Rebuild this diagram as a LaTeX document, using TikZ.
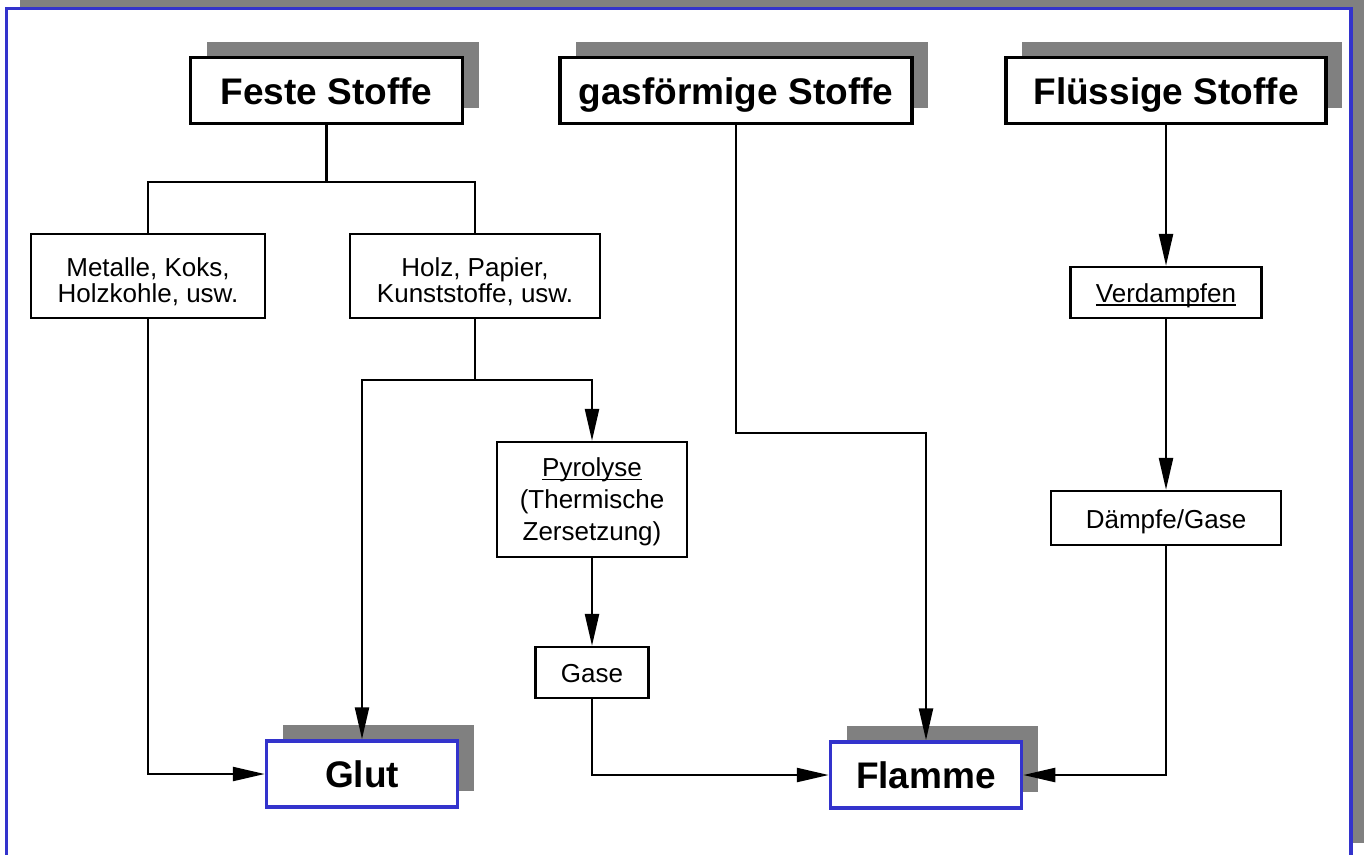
\documentclass[tikz,border=0pt]{standalone}
\usepackage{fontspec}
\setmainfont{Liberation Sans}
\usetikzlibrary{arrows.meta,shadows}
\definecolor{frameblue}{HTML}{3333CC}
\definecolor{shadowgray}{HTML}{808080}
\newcommand\myul[1]{\setbox0\hbox{#1}\rlap{\rule[-3.5pt]{\wd0}{1.6pt}}\box0}
\newcommand\topstrut{\rule{0pt}{31pt}}
\tikzset{
  headbox/.style={draw=black, line width=3.5pt, fill=white, inner sep=0pt,
    text height=27pt, text depth=0pt,
    font=\fontsize{37}{40}\selectfont\bfseries,
    general shadow={fill=shadowgray, shadow xshift=16pt, shadow yshift=16pt}},
  resbox/.style={headbox, draw=frameblue},
  smallbox/.style={draw=black, line width=2.3pt, fill=white, inner sep=0pt, align=center,
    font=\fontsize{26}{26}\selectfont},
  oneline/.style={smallbox, text height=20pt, text depth=0pt},
  conn/.style={line width=2.4pt, draw=black},
  arr/.style={conn, -{Triangle[length=32pt,width=14pt]}}
}
\begin{document}
\begin{tikzpicture}[x=1pt,y=-1pt]
\useasboundingbox (0,0) rectangle (1364,854);
\clip (0,0) rectangle (1364,854);
% outer frame with shadow
\fill[shadowgray] (20,-10) rectangle (1380,843);
\draw[frameblue, line width=3.5pt, fill=white] (6.5,8.5) rectangle (1351,890);

% head boxes
\node[headbox, minimum width=272pt, minimum height=66pt] (feste) at (326.5,90.5) {Feste Stoffe};
\node[headbox, minimum width=352pt, minimum height=66pt] (gas) at (736,90.5) {gasförmige Stoffe};
\node[headbox, minimum width=320pt, minimum height=66pt] (flu) at (1166,90.5) {Flüssige Stoffe};

% small boxes
\node[smallbox, minimum width=234pt, minimum height=84pt] (metalle) at (148,276) {\topstrut Metalle, Koks,\\Holzkohle, usw.};
\node[smallbox, minimum width=250pt, minimum height=84pt] (holz) at (475,276) {\topstrut Holz, Papier,\\Kunststoffe, usw.};
\node[oneline, minimum width=191pt, minimum height=51pt] (verd) at (1166,292.5) {\myul{Verdampfen}};
\node[smallbox, minimum width=190pt, minimum height=115pt, text depth=0pt, font=\fontsize{26}{32}\selectfont] (pyro) at (592,499.5) {\myul{Pyrolyse}\\(Thermische\\Zersetzung)};
\node[oneline, minimum width=230pt, minimum height=54pt] (daempfe) at (1166,518) {Dämpfe/Gase};
\node[oneline, minimum width=113pt, minimum height=51pt] (gase) at (592,672.5) {Gase};

% result boxes
\node[resbox, minimum width=191pt, minimum height=66pt] (glut) at (362,774) {Glut};
\node[resbox, minimum width=191pt, minimum height=66pt] (flamme) at (926,775) {Flamme};

% junction coordinates
\coordinate (fj) at (326.5,182);
\coordinate (hj) at (475,380);
\coordinate (gy) at (0,433);
\coordinate (gk) at (gas.south |- gy);

% connectors
\draw[conn] (feste.south) -- (fj);
\draw[conn] (metalle.north) -- (metalle.north |- fj) -- (holz.north |- fj) -- (holz.north);
\draw[arr] (metalle.south) |- (glut.west);
\draw[conn] (holz.south) -- (hj);
\draw[arr] (hj) -| (glut.north);
\draw[arr] (hj) -| (pyro.north);
\draw[arr] (pyro.south) -- (gase.north);
\draw[arr] (gase.south) |- (flamme.west);
\draw[arr] (gas.south) -- (gk) -| (flamme.north);
\draw[arr] (flu.south) -- (verd.north);
\draw[arr] (verd.south) -- (daempfe.north);
\draw[arr] (daempfe.south) |- (flamme.east);
\end{tikzpicture}
\end{document}
